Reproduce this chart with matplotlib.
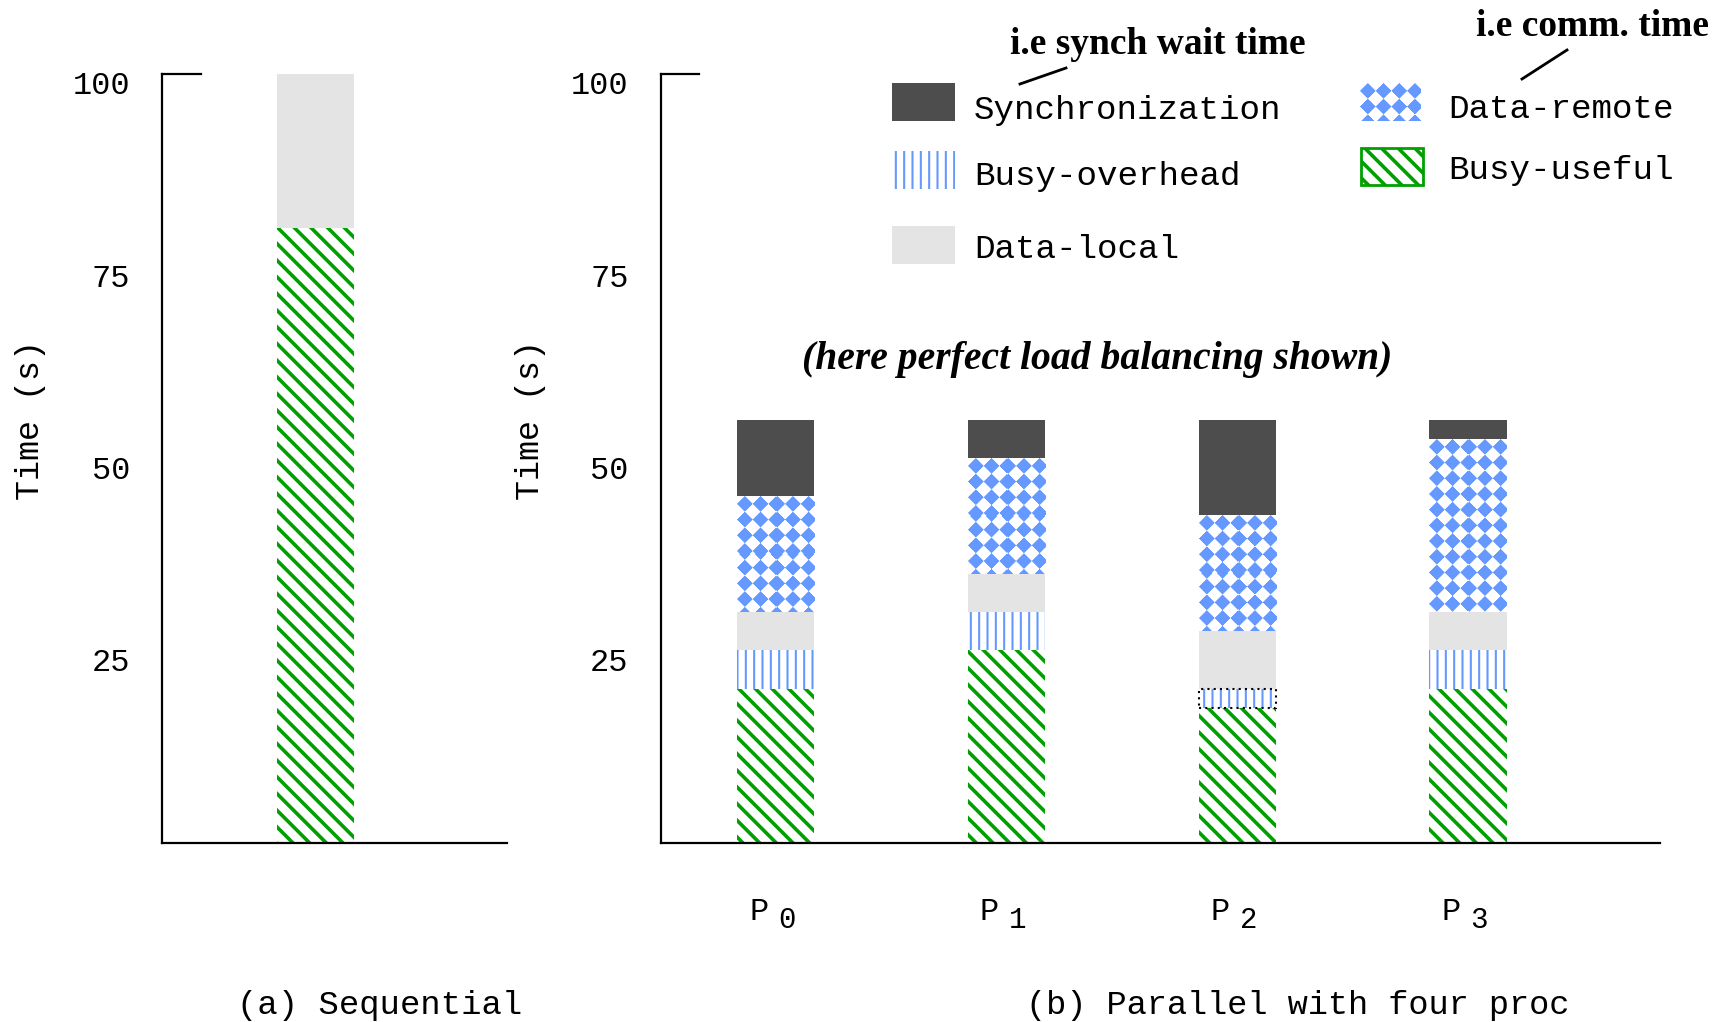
import matplotlib
matplotlib.use("Agg")
import matplotlib.pyplot as plt
import matplotlib.transforms as mtransforms
from matplotlib.patches import Rectangle
import numpy as np

# ---- data (seconds) ----
proc_digits = ["0", "1", "2", "3"]
busy_useful = [20, 25, 17.5, 20]
busy_overhead = [5, 5, 2.5, 5]
data_local = [5, 5, 7.5, 5]
data_remote = [15, 15, 15, 22.5]
synchronization = [10, 5, 12.5, 2.5]

seq_busy_useful = [80]
seq_data_local = [20]

y_ticks = [25, 50, 75, 100]

# ---- styles ----
GREEN = "#00a000"
BLUE = "#6699ff"
DARK = "#4d4d4d"
LIGHT = "#e4e4e4"
MONO = "Liberation Mono"
SERIF = "Liberation Serif"
STRIPES = "\\\\"

W, H, DPI = 1729, 1022, 100
BAR_W = 0.334

fig = plt.figure(figsize=(W / DPI, H / DPI), dpi=DPI)


def px_box(x0, y0, x1, y1):
    # pixel box (top-left origin) -> figure fraction [l, b, w, h]
    return [x0 / W, 1 - y1 / H, (x1 - x0) / W, (y1 - y0) / H]


def diamond_texture(w, h, period=15.7, color=BLUE):
    ys, xs = np.mgrid[0:h, 0:w] + 0.5
    d = np.abs(xs % period - period / 2) + np.abs(ys % period - period / 2)
    a = np.clip(period * 0.49 - d + 0.7, 0, 1)[..., None]
    rgb = np.array(matplotlib.colors.to_rgb(color))
    return np.ones((h, w, 3)) * (1 - a) + rgb * a


def set_hlw(patch, hlw):
    if hasattr(patch, "set_hatch_linewidth"):
        patch.set_hatch_linewidth(hlw)


def hatched_bar(ax, x, h, bottom, hatch, color, hlw, **kw):
    plt.rcParams["hatch.linewidth"] = hlw
    bars = ax.bar(x, h, BAR_W, bottom=bottom, color="white", edgecolor=color,
                  hatch=hatch, linewidth=0, **kw)
    for b in bars:
        set_hlw(b, hlw)
    return bars


def remote_bar(ax, x, h, bottom):
    # diamond-checker fill, rendered as a texture over the bar extent
    for xi, hi, bi in zip(x, h, bottom):
        x0, x1 = xi - BAR_W / 2, xi + BAR_W / 2
        p0 = ax.transData.transform((x0, bi))
        p1 = ax.transData.transform((x1, bi + hi))
        wpx, hpx = int(round(p1[0] - p0[0])), int(round(p1[1] - p0[1]))
        ax.imshow(diamond_texture(wpx, hpx), extent=(x0, x1, bi, bi + hi),
                  aspect="auto", interpolation="nearest", zorder=2)


def style_axes(ax, stub_frac):
    for s in ("top", "right"):
        ax.spines[s].set_visible(False)
    for s in ("left", "bottom"):
        ax.spines[s].set_linewidth(1.6)
    ax.set_ylim(0, 100)
    ax.set_yticks(y_ticks)
    ax.set_yticklabels([str(t) for t in y_ticks], fontsize=23, family=MONO)
    ax.tick_params(axis="y", length=0, pad=23)
    ax.tick_params(axis="x", length=0)
    ax.set_xticks([])
    offset = mtransforms.ScaledTranslation(0, -9 / DPI, fig.dpi_scale_trans)
    for lab in ax.get_yticklabels():
        lab.set_transform(lab.get_transform() + offset)
    ax.axhline(100, xmin=0, xmax=stub_frac, color="black", lw=1.6, clip_on=False)


# ---- (a) sequential ----
ax_a = fig.add_axes(px_box(162, 74, 507, 842.5))
ax_a.set_xlim(-0.666, 0.831)
style_axes(ax_a, 38.6 / 345)
hatched_bar(ax_a, [0], seq_busy_useful, [0], STRIPES, GREEN, 2.6)
ax_a.bar([0], seq_data_local, BAR_W, bottom=seq_busy_useful, color=LIGHT, linewidth=0)

# ---- (b) parallel ----
ax_b = fig.add_axes(px_box(660.5, 74, 1659.5, 842.5))
ax_b.set_xlim(-0.5, 3.83)
style_axes(ax_b, 38.6 / 999)
x = np.arange(len(proc_digits))
b1 = np.array(busy_useful, dtype=float)
b2 = b1 + busy_overhead
b3 = b2 + data_local
b4 = b3 + data_remote

hatched_bar(ax_b, x, busy_useful, 0, STRIPES, GREEN, 2.6)
hatched_bar(ax_b, x, busy_overhead, b1, "||", BLUE, 1.5)
ax_b.bar(x, data_local, BAR_W, bottom=b2, color=LIGHT, linewidth=0)
remote_bar(ax_b, x, data_remote, b3)
ax_b.bar(x, synchronization, BAR_W, bottom=b4, color=DARK, linewidth=0)
ax_b.set_xlim(-0.5, 3.83)
ax_b.set_ylim(0, 100)

# the P2 overhead slice is outlined
ax_b.bar([2], [busy_overhead[2]], BAR_W, bottom=[b1[2]], fill=False,
         edgecolor="black", linewidth=1.5, linestyle=(0, (1, 2)), zorder=3)

for xi, d in zip(x, proc_digits):
    ax_b.annotate("P", xy=(xi, 0), xycoords=("data", "axes fraction"),
                  xytext=(-17, -69), textcoords="offset pixels",
                  ha="center", va="center", fontsize=23, family=MONO)
    ax_b.annotate(d, xy=(xi, 0), xycoords=("data", "axes fraction"),
                  xytext=(11, -77), textcoords="offset pixels",
                  ha="center", va="center", fontsize=21, family=MONO)

# ---- labels ----
for xpx in (31, 530):
    fig.text(xpx / W, 1 - 420 / H, "Time (s)", rotation=90, ha="center",
             va="center", fontsize=24, family=MONO)
fig.text(380 / W, 1 - 1005 / H, "(a) Sequential", ha="center", va="center",
         fontsize=24.4, family=MONO)
fig.text(1298 / W, 1 - 1005 / H, "(b) Parallel with four proc", ha="center",
         va="center", fontsize=24.2, family=MONO)

# ---- legend and notes, drawn in pixel space ----
ov = fig.add_axes([0, 0, 1, 1], zorder=5)
ov.axis("off")
ov.patch.set_alpha(0)

ov.add_patch(Rectangle((892, 83), 63, 38, facecolor=DARK, linewidth=0))
plt.rcParams["hatch.linewidth"] = 1.5
r = Rectangle((892, 151), 63, 38, facecolor="white", edgecolor=BLUE,
              hatch="||", linewidth=0)
set_hlw(r, 1.5)
ov.add_patch(r)
ov.add_patch(Rectangle((892, 226), 63, 38, facecolor=LIGHT, linewidth=0))
ov.imshow(diamond_texture(61, 38), extent=(1360, 1421, 121, 83),
          aspect="auto", interpolation="nearest")
plt.rcParams["hatch.linewidth"] = 2.6
g = Rectangle((1361, 148), 62, 37, facecolor="white", edgecolor=GREEN,
              hatch=STRIPES, linewidth=2)
set_hlw(g, 2.6)
ov.add_patch(g)
ov.set_xlim(0, W)
ov.set_ylim(H, 0)

legend_text = [("Synchronization", 974, 110), ("Busy-overhead", 974, 176),
               ("Data-local", 974, 249), ("Data-remote", 1448, 109),
               ("Busy-useful", 1448, 171)]
for txt, tx, ty in legend_text:
    ov.text(tx, ty, txt, ha="left", va="center", fontsize=24.7, family=MONO)

ov.text(1158, 45, "i.e synch wait time", ha="center", va="center",
        fontsize=27, family=SERIF, fontweight="bold")
ov.plot([1020, 1066], [84, 68], color="black", lw=2)
ov.text(1593, 27, "i.e comm. time", ha="center", va="center",
        fontsize=27, family=SERIF, fontweight="bold")
ov.plot([1522, 1567], [79, 50], color="black", lw=2)
ov.text(1097, 359, "(here perfect load balancing shown)", ha="center",
        va="center", fontsize=28.5, family=SERIF, fontweight="bold", style="italic")

fig.savefig("out.png", dpi=DPI)
